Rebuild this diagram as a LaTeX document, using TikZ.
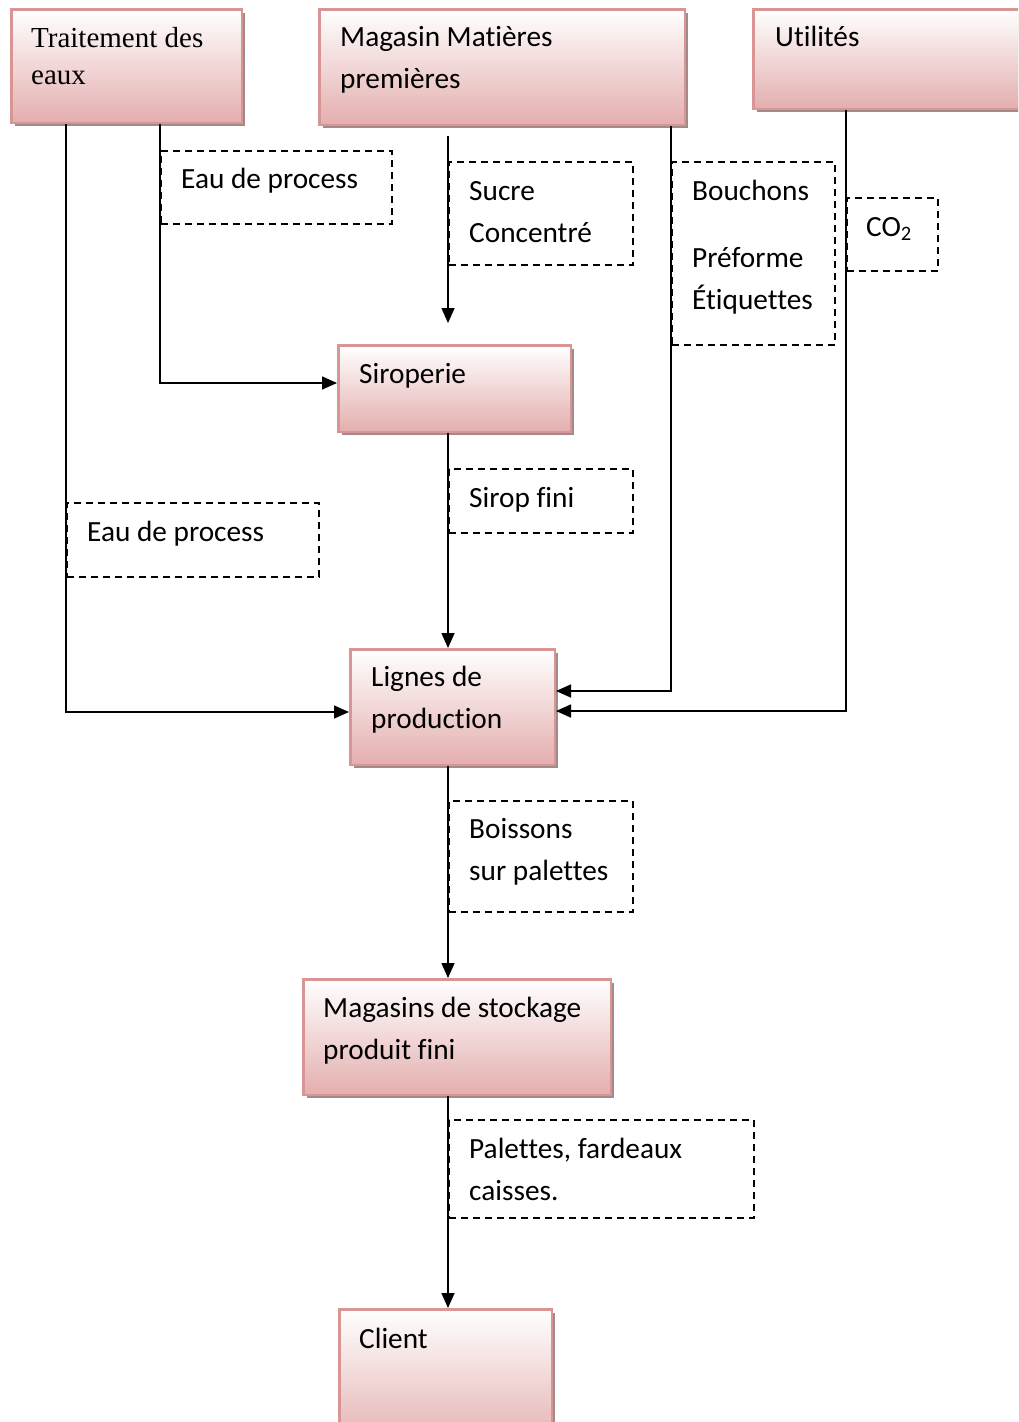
\documentclass[tikz,border=0pt]{standalone}
\usepackage{fontspec}
\setmainfont{Carlito}[Ligatures=NoCommon]
\newfontfamily\tnr{Liberation Serif}
\usetikzlibrary{arrows.meta,calc}
\definecolor{pborder}{RGB}{217,149,148}
\definecolor{pbottom}{RGB}{228,174,174}
\definecolor{pshadow}{RGB}{160,138,138}
\newcommand{\twol}[2]{\begin{tabular}[t]{@{}l@{}}#1\\#2\end{tabular}}
\tikzset{
  pbox/.style={rectangle, anchor=north west, draw=pborder, line width=2.5pt,
    top color=white, bottom color=pbottom, inner sep=0pt,
    preaction={fill=pshadow, transform canvas={shift={(3.5pt,-3.5pt)}}}},
  dbox/.style={rectangle, anchor=north west, draw=black, line width=1.5pt,
    dash pattern=on 7pt off 5pt, inner sep=0pt},
  txt/.style={anchor=base west, inner sep=0pt, font=\fontsize{29.3}{42}\selectfont},
  ttxt/.style={anchor=base west, inner sep=0pt, font=\tnr\fontsize{29}{37}\selectfont},
  conn/.style={line width=1.6pt, -{Triangle[length=15pt,width=13pt]}}
}
\begin{document}
\begin{tikzpicture}[x=1pt,y=-1pt]
\useasboundingbox (0,0) rectangle (1018,1422);
\clip (0,0) rectangle (1018,1422);
% main boxes
\node[pbox, minimum width=230.5pt, minimum height=113.5pt] (trait) at (10,8) {};
\node[pbox, minimum width=365.5pt, minimum height=115.5pt] (mag) at (318,8) {};
\node[pbox, minimum width=297.5pt, minimum height=99.5pt] (util) at (752,8) {};
\node[pbox, minimum width=232.5pt, minimum height=86.5pt] (sirop) at (337,344) {};
\node[pbox, minimum width=204.5pt, minimum height=115.5pt] (lignes) at (349,648) {};
\node[pbox, minimum width=307.5pt, minimum height=115.5pt] (stock) at (302,978) {};
\node[pbox, minimum width=212.5pt, minimum height=140pt] (client) at (338,1308) {};
% dashed label boxes
\node[dbox, minimum width=231pt, minimum height=73pt] (d1) at (160,150) {};
\node[dbox, minimum width=184pt, minimum height=103pt] (d2) at (448,161) {};
\node[dbox, minimum width=163pt, minimum height=183pt] (d3) at (671,161) {};
\node[dbox, minimum width=91pt, minimum height=73pt] (d4) at (846,197) {};
\node[dbox, minimum width=184pt, minimum height=64pt] (d5) at (448,468) {};
\node[dbox, minimum width=252pt, minimum height=74pt] (d6) at (66,502) {};
\node[dbox, minimum width=184pt, minimum height=111pt] (d7) at (448,800) {};
\node[dbox, minimum width=305pt, minimum height=98pt] (d8) at (448,1119) {};
% connectors
\draw[conn] (trait.south -| 66,0) |- (lignes.west |- 0,712);
\draw[conn] (trait.south -| 160,0) |- (sirop.west |- 0,383);
\draw[conn, shorten <=10pt, shorten >=21pt] (mag.south -| 448,0) -- (sirop.north -| 448,0);
\draw[conn] (mag.south -| 671,0) |- (lignes.east |- 0,691);
\draw[conn] (util.south -| 846,0) |- (lignes.east |- 0,711);
\draw[conn] (sirop.south -| 448,0) -- (lignes.north -| 448,0);
\draw[conn] (lignes.south -| 448,0) -- (stock.north -| 448,0);
\draw[conn] (stock.south -| 448,0) -- (client.north -| 448,0);
% texts
\node[ttxt] (ttrait) at (31,47) {\begin{tabular}[t]{@{}l@{}}Traitement des\\eaux\end{tabular}};
\node[txt] (tmag) at (340,46) {\twol{Magasin Matières}{premières}};
\node[txt] (tutil) at (775,46) {Utilités};
\node[txt] (tsirop) at (359,383) {Siroperie};
\node[txt] (tlignes) at (371,686) {\twol{Lignes de}{production}};
\node[txt] (tstock) at (323,1017) {\twol{Magasins de stockage}{produit fini}};
\node[txt] (tclient) at (359,1348) {Client};
\node[txt] (t1) at (181,188) {Eau de process};
\node[txt] (t2) at (469,200) {\twol{Sucre}{Concentré}};
\node[txt] (t3) at (692,200) {\begin{tabular}[t]{@{}l@{}}Bouchons\\[25pt]Préforme\\Étiquettes\end{tabular}};
\node[txt] (t4) at (866,236) {CO\textsubscript{2}};
\node[txt] (t5) at (469,507) {Sirop fini};
\node[txt] (t6) at (87,541) {Eau de process};
\node[txt] (t7) at (469,838) {\twol{Boissons}{sur palettes}};
\node[txt] (t8) at (469,1158) {\twol{Palettes, fardeaux}{caisses.}};
\end{tikzpicture}
\end{document}
